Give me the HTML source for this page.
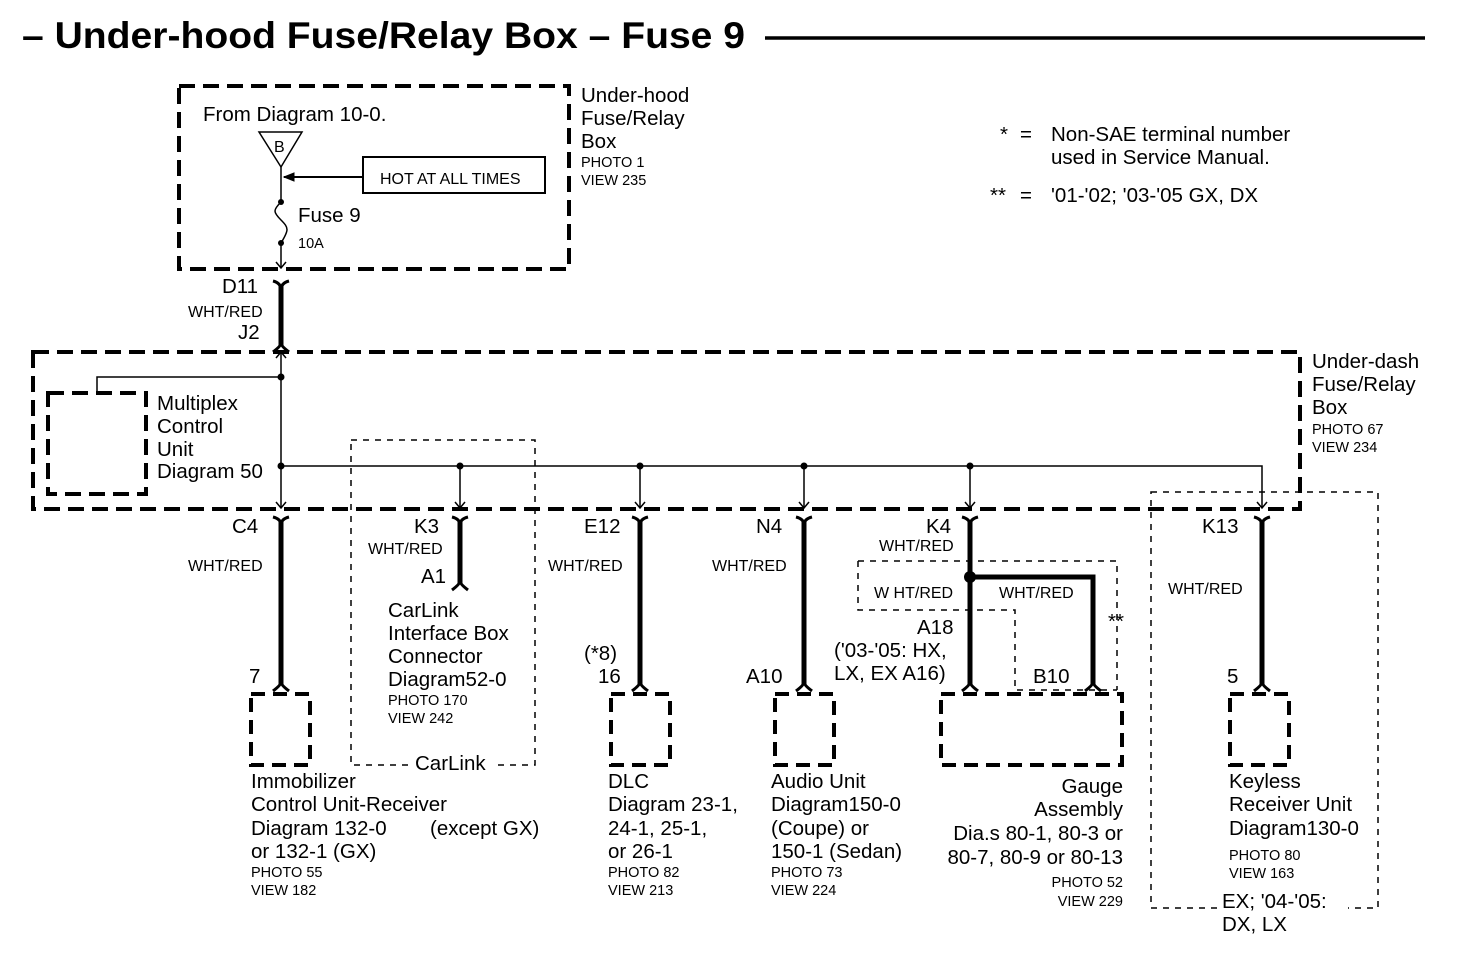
<!DOCTYPE html>
<html><head><meta charset="utf-8"><style>
html,body{margin:0;padding:0;background:#fff}
svg{display:block}
text{font-family:"Liberation Sans",Arial,sans-serif;fill:#000}
.l{font-size:20.5px}
.s{font-size:14.5px}
.w{font-size:16px}
</style></head><body>
<svg width="1472" height="972" viewBox="0 0 1472 972" xmlns="http://www.w3.org/2000/svg">
<text x="22" y="48" style="font-size:37px;font-weight:bold" textLength="723" lengthAdjust="spacingAndGlyphs">– Under-hood Fuse/Relay Box – Fuse 9</text>
<line x1="765" y1="38" x2="1425" y2="38" stroke="#000" stroke-width="3.5"/>

<g fill="none" stroke="#000">
<rect x="179" y="86" width="390" height="183" stroke-width="4" stroke-dasharray="16,8"/>
<rect x="33" y="352" width="1267" height="157" stroke-width="4" stroke-dasharray="16,8"/>
<rect x="48" y="393" width="98" height="101" stroke-width="4" stroke-dasharray="16,8"/>
<rect x="251" y="694" width="59" height="71" stroke-width="4" stroke-dasharray="14,8"/>
<rect x="611" y="694" width="59" height="71" stroke-width="4" stroke-dasharray="14,8"/>
<rect x="775" y="694" width="59" height="71" stroke-width="4" stroke-dasharray="14,8"/>
<rect x="941" y="694" width="181" height="71" stroke-width="4" stroke-dasharray="14,8"/>
<rect x="1230" y="694" width="59" height="71" stroke-width="4" stroke-dasharray="14,8"/>
<rect x="351" y="440" width="184" height="325" stroke-width="1.5" stroke-dasharray="6,6"/>
<rect x="1151" y="492" width="227" height="416" stroke-width="1.5" stroke-dasharray="6,6"/>
<path d="M858,561 H1117 V690 M858,561 V610 H1015 V690 H1117" stroke-width="1.5" stroke-dasharray="6,6"/>

<rect x="363" y="157" width="182" height="36" stroke-width="2"/>
<line x1="363" y1="177" x2="284" y2="177" stroke-width="2"/>
<path d="M284,177 l10,-4 v8 z" fill="#000"/>
<path d="M259,132 H302 L281,167 Z" stroke-width="1.5"/>
<path d="M281,167 V202 M281,243 V267 M281,202 c-8,8 -8,10 0,18 c8,8 8,10 0,23" stroke-width="1.5"/>
<path d="M276,262 L281,268 L286,262" stroke-width="1.5"/>
<path d="M281,286 V346" stroke-width="5"/>
<path d="M273,281 Q281,283 281,290 Q281,283 289,281" stroke-width="3"/>
<path d="M273,352 Q281,346 281,343 Q281,346 289,352" stroke-width="3"/>
<path d="M276,358 L281,352 L286,358" stroke-width="1.5"/>

<path d="M97,393 V377 H281 M281,352 V508 M281,466 H1262 V508" stroke-width="1.5"/>
<path d="M460,466 V508 M640,466 V508 M804,466 V508 M970,466 V508" stroke-width="1.5"/>
<path d="M276,502 L281,508 L286,502 M455,502 L460,508 L465,502 M635,502 L640,508 L645,502 M799,502 L804,508 L809,502 M965,502 L970,508 L975,502 M1257,502 L1262,508 L1267,502" stroke-width="1.5"/>

<g stroke-width="3">
<path d="M273,517 Q281,519 281,525 Q281,519 289,517"/>
<path d="M452,517 Q460,519 460,525 Q460,519 468,517"/>
<path d="M632,517 Q640,519 640,525 Q640,519 648,517"/>
<path d="M796,517 Q804,519 804,525 Q804,519 812,517"/>
<path d="M962,517 Q970,519 970,525 Q970,519 978,517"/>
<path d="M1254,517 Q1262,519 1262,525 Q1262,519 1270,517"/>
<path d="M273,691 Q281,685 281,682 Q281,685 289,691"/>
<path d="M452,590 Q460,584 460,581 Q460,584 468,590"/>
<path d="M632,691 Q640,685 640,682 Q640,685 648,691"/>
<path d="M796,691 Q804,685 804,682 Q804,685 812,691"/>
<path d="M962,691 Q970,685 970,682 Q970,685 978,691"/>
<path d="M1085,691 Q1093,685 1093,682 Q1093,685 1101,691"/>
<path d="M1254,691 Q1262,685 1262,682 Q1262,685 1270,691"/>
</g>
<g stroke-width="5">
<path d="M281,522 V684"/>
<path d="M460,522 V584"/>
<path d="M640,522 V684"/>
<path d="M804,522 V684"/>
<path d="M970,522 V684 M970,577 H1093 V684"/>
<path d="M1262,522 V684"/>
</g>
</g>
<rect x="410" y="755" width="88" height="20" fill="#fff"/>
<rect x="1218" y="898" width="130" height="20" fill="#fff"/>
<circle cx="281" cy="377" r="3.5"/><circle cx="281" cy="466" r="3.5"/>
<circle cx="460" cy="466" r="3.5"/><circle cx="640" cy="466" r="3.5"/>
<circle cx="804" cy="466" r="3.5"/><circle cx="970" cy="466" r="3.5"/>
<circle cx="281" cy="202" r="3"/><circle cx="281" cy="243" r="3"/>
<circle cx="970" cy="577" r="6"/>

<text x="203" y="121" class="l">From Diagram 10-0.</text>
<text x="274" y="152" style="font-size:16px">B</text>
<text x="380" y="184" class="w">HOT AT ALL TIMES</text>
<text x="298" y="222" class="l">Fuse 9</text>
<text x="298" y="248" class="s">10A</text>
<text x="581" y="102" class="l">Under-hood</text>
<text x="581" y="125" class="l">Fuse/Relay</text>
<text x="581" y="148" class="l">Box</text>
<text x="581" y="167" class="s">PHOTO 1</text>
<text x="581" y="185" class="s">VIEW 235</text>
<text x="1000" y="141" class="l">*</text>
<text x="1020" y="141" class="l">=</text>
<text x="1051" y="141" class="l">Non-SAE terminal number</text>
<text x="1051" y="164" class="l">used in Service Manual.</text>
<text x="990" y="202" class="l">**</text>
<text x="1020" y="202" class="l">=</text>
<text x="1051" y="202" class="l">'01-'02; '03-'05 GX, DX</text>

<text x="222" y="293" class="l">D11</text>
<text x="188" y="317" class="w">WHT/RED</text>
<text x="238" y="339" class="l">J2</text>

<text x="1312" y="368" class="l">Under-dash</text>
<text x="1312" y="391" class="l">Fuse/Relay</text>
<text x="1312" y="414" class="l">Box</text>
<text x="1312" y="434" class="s">PHOTO 67</text>
<text x="1312" y="452" class="s">VIEW 234</text>
<text x="157" y="410" class="l">Multiplex</text>
<text x="157" y="433" class="l">Control</text>
<text x="157" y="456" class="l">Unit</text>
<text x="157" y="478" class="l">Diagram 50</text>

<text x="232" y="533" class="l">C4</text>
<text x="188" y="571" class="w">WHT/RED</text>
<text x="249" y="683" class="l">7</text>
<text x="414" y="533" class="l">K3</text>
<text x="368" y="554" class="w">WHT/RED</text>
<text x="421" y="583" class="l">A1</text>
<text x="388" y="617" class="l">CarLink</text>
<text x="388" y="640" class="l">Interface Box</text>
<text x="388" y="663" class="l">Connector</text>
<text x="388" y="686" class="l">Diagram52-0</text>
<text x="388" y="705" class="s">PHOTO 170</text>
<text x="388" y="723" class="s">VIEW 242</text>
<text x="415" y="770" class="l">CarLink</text>

<text x="584" y="533" class="l">E12</text>
<text x="548" y="571" class="w">WHT/RED</text>
<text x="584" y="660" class="l">(*8)</text>
<text x="598" y="683" class="l">16</text>
<text x="756" y="533" class="l">N4</text>
<text x="712" y="571" class="w">WHT/RED</text>
<text x="746" y="683" class="l">A10</text>
<text x="926" y="533" class="l">K4</text>
<text x="879" y="551" class="w">WHT/RED</text>
<text x="874" y="598" class="w">W HT/RED</text>
<text x="999" y="598" class="w">WHT/RED</text>
<text x="1108" y="628" class="l">**</text>
<text x="917" y="634" class="l">A18</text>
<text x="834" y="657" class="l">('03-'05: HX,</text>
<text x="834" y="680" class="l">LX, EX A16)</text>
<text x="1033" y="683" class="l">B10</text>
<text x="1202" y="533" class="l">K13</text>
<text x="1168" y="594" class="w">WHT/RED</text>
<text x="1227" y="683" class="l">5</text>

<text x="251" y="788" class="l">Immobilizer</text>
<text x="251" y="811" class="l">Control Unit-Receiver</text>
<text x="251" y="835" class="l">Diagram  132-0</text>
<text x="430" y="835" class="l">(except GX)</text>
<text x="251" y="858" class="l">or 132-1 (GX)</text>
<text x="251" y="877" class="s">PHOTO 55</text>
<text x="251" y="895" class="s">VIEW 182</text>
<text x="608" y="788" class="l">DLC</text>
<text x="608" y="811" class="l">Diagram 23-1,</text>
<text x="608" y="835" class="l">24-1, 25-1,</text>
<text x="608" y="858" class="l">or 26-1</text>
<text x="608" y="877" class="s">PHOTO 82</text>
<text x="608" y="895" class="s">VIEW 213</text>
<text x="771" y="788" class="l">Audio Unit</text>
<text x="771" y="811" class="l">Diagram150-0</text>
<text x="771" y="835" class="l">(Coupe) or</text>
<text x="771" y="858" class="l">150-1 (Sedan)</text>
<text x="771" y="877" class="s">PHOTO 73</text>
<text x="771" y="895" class="s">VIEW 224</text>
<g text-anchor="end">
<text x="1123" y="793" class="l">Gauge</text>
<text x="1123" y="816" class="l">Assembly</text>
<text x="1123" y="840" class="l">Dia.s 80-1, 80-3 or</text>
<text x="1123" y="864" class="l">80-7, 80-9 or 80-13</text>
<text x="1123" y="887" class="s">PHOTO 52</text>
<text x="1123" y="906" class="s">VIEW 229</text>
</g>
<text x="1229" y="788" class="l">Keyless</text>
<text x="1229" y="811" class="l">Receiver Unit</text>
<text x="1229" y="835" class="l">Diagram130-0</text>
<text x="1229" y="860" class="s">PHOTO 80</text>
<text x="1229" y="878" class="s">VIEW 163</text>
<text x="1222" y="908" class="l">EX; '04-'05:</text>
<text x="1222" y="931" class="l">DX, LX</text>
</svg>
</body></html>
